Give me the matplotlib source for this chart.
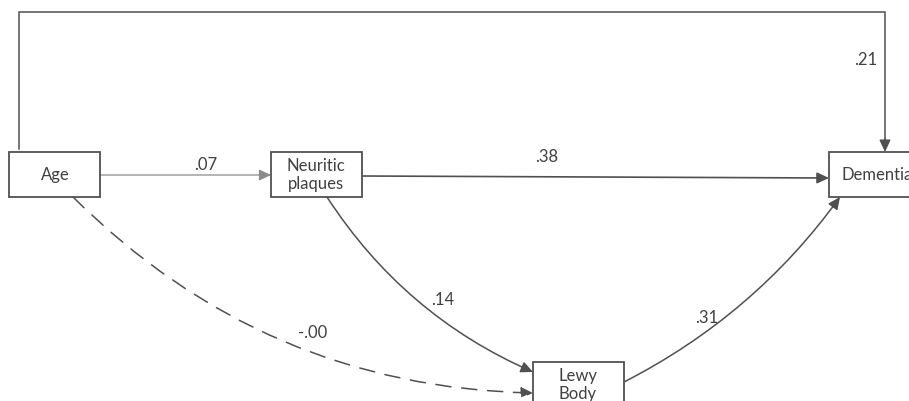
import matplotlib
matplotlib.use("Agg")
import matplotlib.pyplot as plt
from matplotlib.patches import Rectangle, FancyArrowPatch

# ---- data ----
node_names = ["Age", "Neuritic\nplaques", "Lewy\nBody", "Dementia"]
path_from = ["Age", "Neuritic\nplaques", "Age", "Neuritic\nplaques", "Age", "Lewy\nBody"]
path_to = ["Neuritic\nplaques", "Dementia", "Dementia", "Lewy\nBody", "Lewy\nBody", "Dementia"]
path_coefs = [0.07, 0.38, 0.21, 0.14, -0.00, 0.31]
path_labels = [".07", ".38", ".21", ".14", "-.00", ".31"]

# ---- layout (pixel coordinates, y downwards) ----
W, H = 909, 401
boxes = {  # x, y, w, h
    "Age": (9, 152, 91, 45),
    "Neuritic\nplaques": (271, 152, 91, 45),
    "Lewy\nBody": (533, 362, 91, 50),
    "Dementia": (829, 152, 91, 45),
}
text_pos = {
    "Age": (55, 175),
    "Neuritic\nplaques": (316, 175),
    "Lewy\nBody": (578, 385),
    "Dementia": (877, 175),
}
line_col = "#505050"
font = ["Lato", "DejaVu Sans"]
fs = 12

fig = plt.figure(figsize=(W / 100, H / 100), dpi=100)
ax = fig.add_axes([0, 0, 1, 1])
ax.set_xlim(0, W)
ax.set_ylim(H, 0)
ax.axis("off")

for name in node_names:
    x, y, w, h = boxes[name]
    ax.add_patch(Rectangle((x, y), w, h, facecolor="white", edgecolor=line_col, lw=1.3, zorder=3))
    tx, ty = text_pos[name]
    ax.text(tx, ty, name, ha="center", va="center", fontsize=fs, family=font,
            color="#404040", linespacing=1.1, zorder=4)

astyle = "-|>,head_length=0.6,head_width=0.28"

def arrow(p0, p1, rad=0.0, color=line_col, lw=1.1, ls="-"):
    a = FancyArrowPatch(p0, p1, arrowstyle=astyle, mutation_scale=12,
                        connectionstyle=f"arc3,rad={rad}", color=color, lw=lw,
                        linestyle=ls, shrinkA=0, shrinkB=0, zorder=2)
    ax.add_patch(a)

# geometry for each path (same order as data)
geom = [
    dict(p0=(100, 175), p1=(271, 175), rad=0.0, color="#8a8a8a", lw=0.9, ls="-"),
    dict(p0=(362, 176), p1=(829, 178), rad=0.0, color=line_col, lw=1.2, ls="-"),
    None,
    dict(p0=(327, 197), p1=(533, 372), rad=0.15, color=line_col, lw=1.1, ls="-"),
    dict(p0=(73, 197), p1=(533, 393), rad=0.2, color=line_col, lw=1.1, ls=(0, (10, 7))),
    dict(p0=(624, 382), p1=(840, 197), rad=0.12, color=line_col, lw=1.1, ls="-"),
]
label_pos = [(206, 165), (547, 157), (866, 60), (443, 300), (313, 333), (707, 318)]

for i, g in enumerate(geom):
    if g is None:
        ax.plot([19, 19, 885, 885], [149, 12, 12, 140], color=line_col, lw=1.1,
                solid_joinstyle="miter", zorder=2)
        arrow((885, 139), (885, 152))
    else:
        arrow(g["p0"], g["p1"], rad=g["rad"], color=g["color"], lw=g["lw"], ls=g["ls"])
    lx, ly = label_pos[i]
    ax.text(lx, ly, path_labels[i], ha="center", va="center", fontsize=fs,
            family=font, color="#404040", zorder=4)

fig.savefig("out.png", dpi=100, facecolor="white")
